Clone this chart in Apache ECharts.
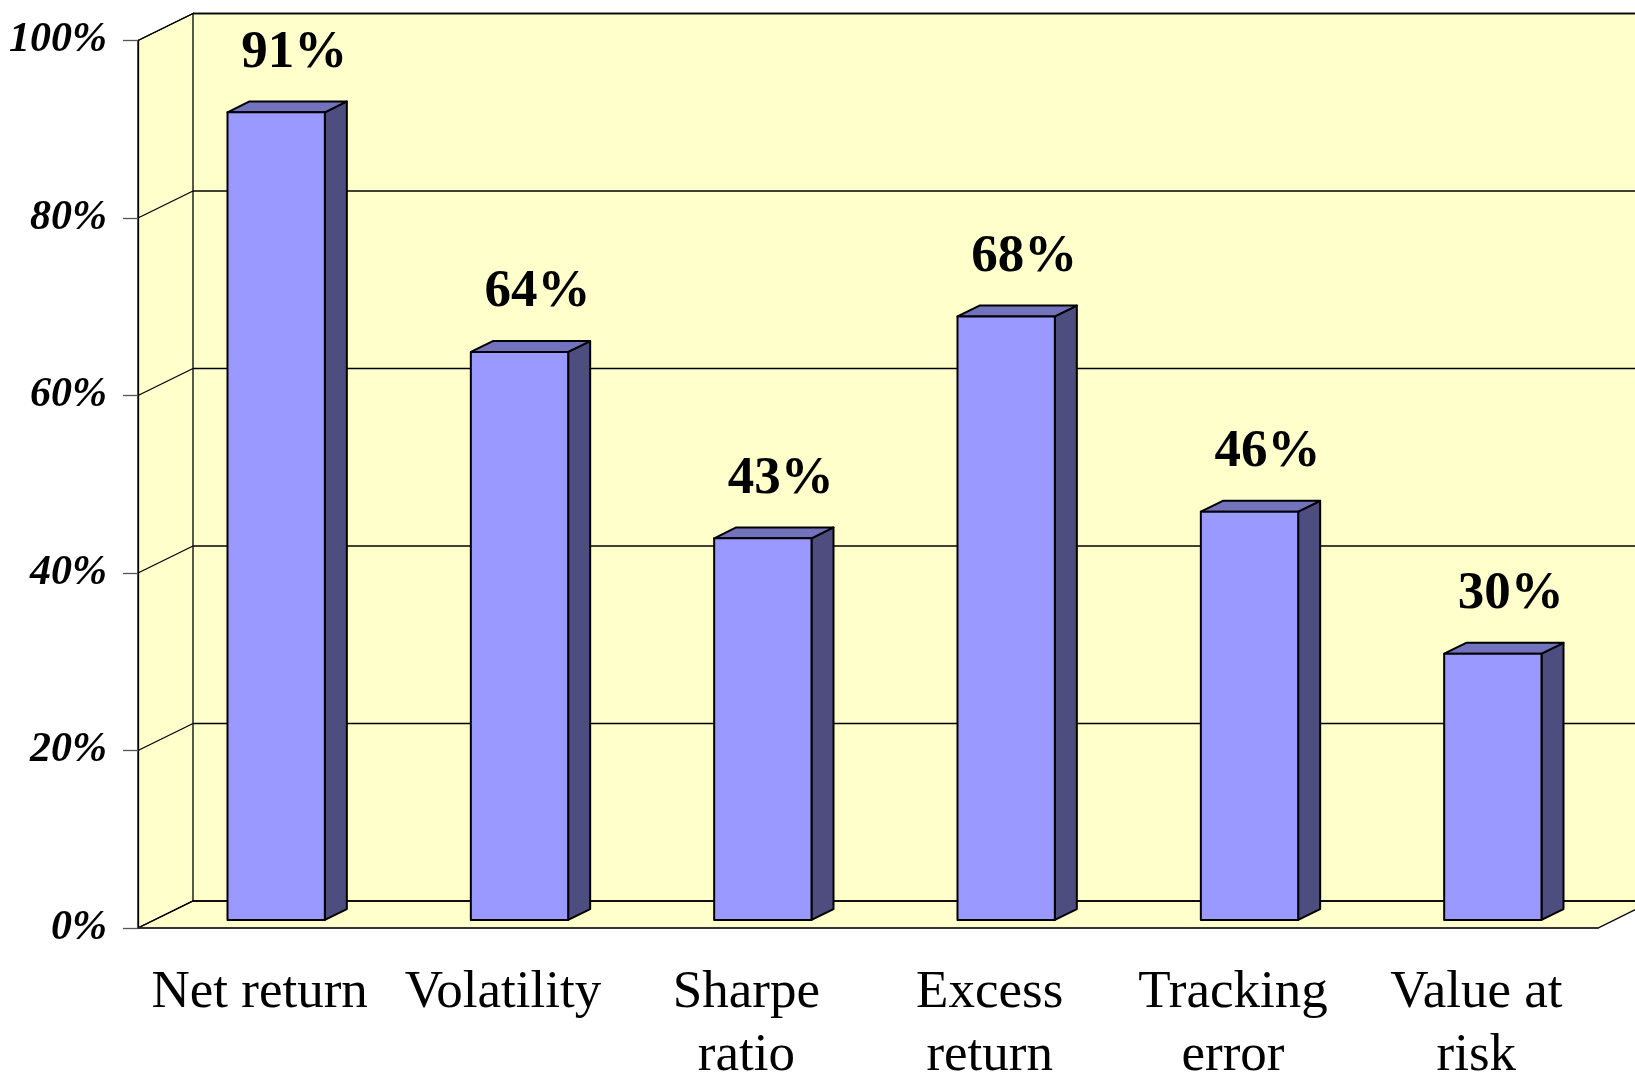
<!DOCTYPE html>
<html>
<head>
<meta charset="utf-8">
<script src="https://cdn.jsdelivr.net/npm/echarts@6/dist/echarts.min.js"></script>
<style>
  html, body { margin: 0; padding: 0; background: #fff; }
  #chart { width: 1635px; height: 1076px; }
</style>
</head>
<body>
<div id="chart"></div>
<script>
const categories = ['Net return', 'Volatility', 'Sharpe\nratio', 'Excess\nreturn', 'Tracking\nerror', 'Value at\nrisk']
const values = [0.91, 0.64, 0.43, 0.68, 0.46, 0.30]
const yTicks = [0, 0.2, 0.4, 0.6, 0.8, 1]

// oblique depth of the 3d box
const DX = 55
const DY = -27

const serif = "'Liberation Serif', 'Times New Roman', serif"

function pct(v) {
  return Math.round(v * 100) + '%'
}

// back wall, side wall, floor and their grid lines
function renderWalls(params, api) {
  const cs = params.coordSys
  const x0 = cs.x, x1 = cs.x + cs.width
  const yTop = cs.y, yBot = cs.y + cs.height
  const fill = '#FFFFCC'
  const line = { stroke: '#000', lineWidth: 1.3 }
  const children = [
    { type: 'polygon', shape: { points: [[x0 + DX, yTop + DY], [x1 + DX + 60, yTop + DY], [x1 + DX + 60, yBot + DY], [x0 + DX, yBot + DY]] }, style: { fill: fill } },
    { type: 'polygon', shape: { points: [[x0, yTop], [x0 + DX, yTop + DY], [x0 + DX, yBot + DY], [x0, yBot]] }, style: { fill: fill, stroke: '#000', lineWidth: 1.3 } },
    { type: 'polygon', shape: { points: [[x0, yBot], [x0 + DX, yBot + DY], [x1 + DX, yBot + DY], [x1, yBot]] }, style: { fill: fill, stroke: '#000', lineWidth: 1.3 } },
    { type: 'line', shape: { x1: x0 + DX, y1: yTop + DY, x2: x1 + DX + 60, y2: yTop + DY }, style: line }
  ]
  yTicks.forEach(t => {
    const y = api.coord([0, t])[1]
    children.push({ type: 'line', shape: { x1: x0, y1: y, x2: x0 + DX, y2: y + DY }, style: line })
    children.push({ type: 'line', shape: { x1: x0 + DX, y1: y + DY, x2: x1 + DX + 60, y2: y + DY }, style: line })
  })
  return { type: 'group', children: children }
}

function renderBar(params, api) {
  const i = api.value(0)
  const v = api.value(1)
  const base = api.coord([i, 0])
  const topPt = api.coord([i, v])
  const w = api.size([1, 0])[0] * 0.4
  const ox = DX * 0.3, oy = DY * 0.3
  const dx = DX * 0.4, dy = DY * 0.4
  const left = base[0] - w / 2 + ox
  const right = left + w
  const top = topPt[1] + oy
  const bottom = base[1] + oy
  const edge = { stroke: '#000', lineWidth: 2, lineJoin: 'round' }
  return {
    type: 'group',
    children: [
      { type: 'polygon', shape: { points: [[right, top], [right + dx, top + dy], [right + dx, bottom + dy], [right, bottom]] }, style: Object.assign({ fill: '#4D4D80' }, edge) },
      { type: 'polygon', shape: { points: [[left, top], [left + dx, top + dy], [right + dx, top + dy], [right, top]] }, style: Object.assign({ fill: '#7373BD' }, edge) },
      { type: 'rect', shape: { x: left, y: top, width: w, height: bottom - top }, style: Object.assign({ fill: '#9999FF' }, edge) },
      {
        type: 'text',
        style: {
          text: pct(v),
          x: (left + right) / 2 + 18,
          y: top + dy - 22,
          align: 'center',
          verticalAlign: 'bottom',
          font: 'bold 53px ' + serif,
          fill: '#000'
        }
      }
    ]
  }
}

const option = {
  animation: false,
  grid: { left: 138, right: 37, top: 40.5, bottom: 148, outerBoundsMode: 'none', containLabel: false },
  xAxis: {
    type: 'category',
    data: categories,
    z: 5,
    axisLine: { lineStyle: { color: '#333', width: 1.5 } },
    axisTick: { length: 13, lineStyle: { color: '#555', width: 1.3 } },
    axisLabel: { interval: 0, color: '#000', fontFamily: serif, fontSize: 53, lineHeight: 63, margin: 34 }
  },
  yAxis: {
    type: 'value',
    min: 0,
    max: 1,
    interval: 0.2,
    z: 5,
    axisLine: { show: true, lineStyle: { color: '#000', width: 1.3 } },
    axisTick: { show: true, length: 15, lineStyle: { color: '#555', width: 1.3 } },
    splitLine: { show: false },
    axisLabel: {
      formatter: pct,
      color: '#000',
      fontFamily: serif,
      fontStyle: 'italic',
      fontWeight: 'bold',
      fontSize: 42,
      margin: 31
    }
  },
  series: [
    {
      type: 'custom',
      z: 1,
      clip: false,
      silent: true,
      renderItem: renderWalls,
      data: [[0, 0]]
    },
    {
      type: 'custom',
      z: 2,
      clip: false,
      renderItem: renderBar,
      encode: { x: 0, y: 1 },
      data: values.map((v, i) => [i, v])
    }
  ]
}

let chart = echarts.init(document.getElementById('chart'))
chart.setOption(option)
</script>
</body>
</html>
